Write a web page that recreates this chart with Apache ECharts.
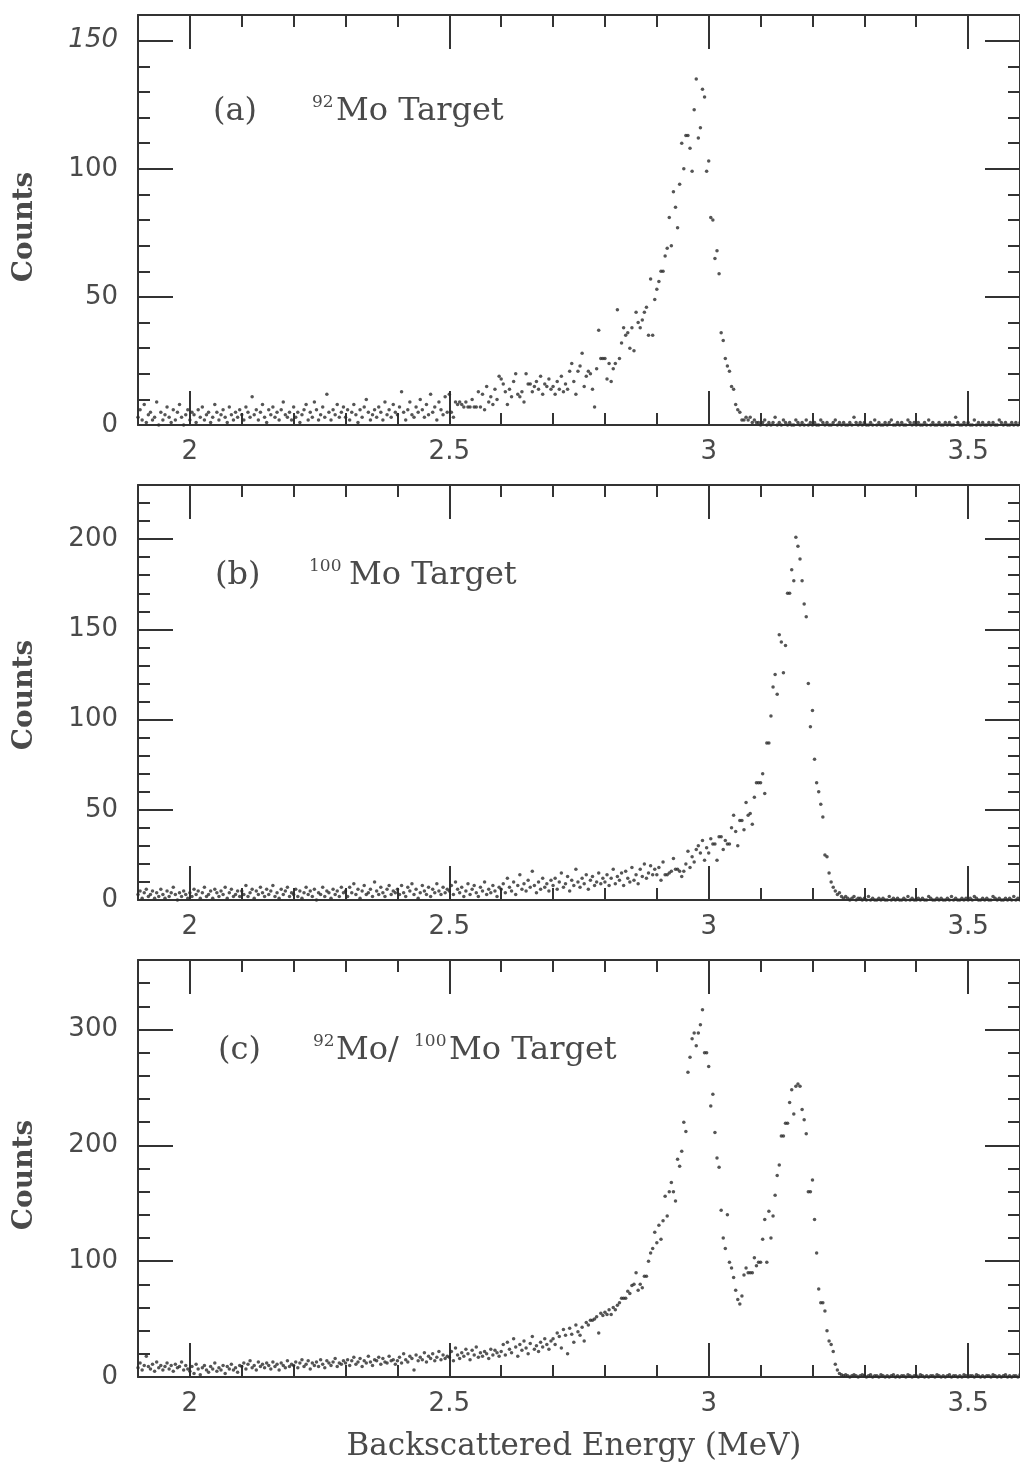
<!DOCTYPE html>
<html><head><meta charset="utf-8">
<script src="https://cdn.jsdelivr.net/npm/echarts@6/dist/echarts.min.js"></script>
<style>html,body{margin:0;padding:0;background:#fff}#chart{width:1020px;height:1473px}</style>
</head><body><div id="chart"></div>
<script>
// Channel energy calibration (MeV): channel i sits at channelStart + i*channelWidth
const channelStart = 1.9;
const channelWidth = 0.004;

// Tick values
const xMajorTicks = [2, 2.5, 3, 3.5];
const xMinorTicks = [1.9, 2.0, 2.1, 2.2, 2.3, 2.4, 2.5, 2.6, 2.7, 2.8, 2.9, 3.0, 3.1, 3.2, 3.3, 3.4, 3.5, 3.6];
const yMajorA = [0, 50, 100, 150];
const yMinorA = [0, 10, 20, 30, 40, 50, 60, 70, 80, 90, 100, 110, 120, 130, 140, 150, 160];
const yMajorB = [0, 50, 100, 150, 200];
const yMinorB = [0, 10, 20, 30, 40, 50, 60, 70, 80, 90, 100, 110, 120, 130, 140, 150, 160, 170, 180, 190, 200, 210, 220, 230];
const yMajorC = [0, 100, 200, 300];
const yMinorC = [0, 20, 40, 60, 80, 100, 120, 140, 160, 180, 200, 220, 240, 260, 280, 300, 320, 340, 360];

// (a) 92Mo target counts per channel
const countsA = [
3,6,2,8,1,4,5,2,3,9,0,5,2,4,7,3,1,6,2,5,8,3,0,4,6,
2,5,4,1,6,3,7,2,4,5,1,3,8,5,2,4,6,3,1,7,4,2,5,3,6,
4,2,7,5,3,11,4,6,2,5,8,3,1,6,4,7,3,5,2,6,9,4,3,5,2,
7,3,5,1,4,6,8,2,5,3,9,6,2,4,7,3,12,5,2,6,4,8,3,5,7,
3,6,2,5,8,4,1,6,3,7,10,5,2,4,6,3,7,5,2,9,4,6,3,8,5,
4,7,13,5,2,6,9,4,3,7,5,10,6,3,8,4,12,5,7,2,9,6,4,11,5,
12,5,3,9,8,9,8,7,9,7,7,10,7,7,13,7,12,6,15,9,11,8,14,10,19,
18,16,13,8,14,11,17,20,12,11,13,9,20,16,16,13,15,17,14,19,12,16,15,18,14,
15,12,17,14,19,13,16,14,21,24,17,12,21,23,28,15,19,21,20,14,7,22,37,26,26,
26,18,24,17,22,24,45,26,32,38,35,36,30,38,29,44,40,38,41,44,46,35,57,35,49,
53,56,60,60,66,69,81,70,91,85,77,94,110,100,113,113,108,99,123,135,112,116,131,128,99,
103,81,80,65,68,59,36,33,26,23,21,15,14,8,6,5,2,2,3,2,3,1,2,1,1,
0,1,2,0,1,0,1,3,0,1,0,2,1,0,1,0,0,2,1,0,1,0,2,0,1,
0,1,0,0,2,1,0,1,0,0,1,2,0,1,0,1,0,0,1,0,3,1,0,1,0,
1,0,0,1,0,2,0,1,0,0,1,0,1,2,0,0,1,0,1,0,0,2,1,0,1,
0,1,0,0,1,0,2,0,1,0,0,1,0,0,1,0,1,0,0,3,1,0,0,1,0,
1,0,0,2,0,1,0,1,0,0,1,0,1,0,0,2,1,0,1,0,0,1,0,1,0,1
];

// (b) 100Mo target counts per channel
const countsB = [
3,5,1,4,6,2,3,5,1,4,2,6,3,1,5,2,4,7,3,0,4,2,5,3,1,
4,2,6,3,5,1,4,7,2,3,5,1,6,4,2,5,3,7,1,4,6,2,3,5,2,
5,3,8,2,4,6,1,5,3,7,4,2,6,3,5,8,2,4,1,6,3,5,7,2,4,
3,6,2,5,1,4,7,3,5,2,6,0,4,3,7,2,5,4,1,6,3,5,2,7,4,
5,2,7,4,9,3,6,1,5,8,3,4,6,2,10,5,3,7,4,2,6,8,3,5,4,
6,3,8,4,2,7,5,9,3,6,1,4,8,5,3,7,2,6,4,9,5,3,7,4,6,
5,8,3,10,6,4,7,2,5,9,3,6,8,4,2,7,5,10,3,6,4,8,5,2,7,
6,9,4,12,7,5,10,3,8,14,6,9,5,11,7,16,8,4,10,6,12,7,9,5,11,
8,12,6,10,15,7,9,13,5,11,8,17,10,7,12,9,14,6,11,13,8,10,15,9,12,
10,14,8,12,17,9,13,11,15,8,16,12,10,18,11,14,9,17,13,20,12,15,19,14,17,
14,18,11,21,14,14,15,16,23,17,17,16,13,16,20,27,18,24,21,28,30,26,33,22,29,
26,34,31,31,22,35,35,28,33,31,31,40,47,38,30,44,44,39,54,47,48,42,57,65,65,
65,70,59,87,87,102,118,125,114,147,143,126,141,170,170,183,177,201,196,189,177,164,157,120,96,
105,78,65,60,53,46,25,24,15,10,7,5,3,4,2,1,2,1,0,1,2,0,1,1,0,
1,0,2,0,1,0,0,1,0,1,0,0,2,0,1,0,1,0,0,1,0,2,0,1,0,
0,1,0,1,0,0,2,1,0,0,1,0,1,0,0,1,0,2,0,1,0,0,1,0,1,
0,1,0,2,1,0,0,1,0,1,0,0,2,1,0,1,0,0,1,0,1,0,2,0,1,0
];

// (c) 92Mo/100Mo target counts per channel
const countsC = [
8,12,6,10,18,9,7,11,5,13,8,10,6,9,12,7,10,5,11,8,9,13,6,10,7,
5,9,3,11,7,2,8,10,6,4,9,7,12,5,8,6,10,3,9,7,11,6,8,4,10,
9,12,7,11,14,8,10,6,13,9,11,8,12,10,7,13,9,11,6,12,10,8,14,9,11,
10,13,8,12,15,9,11,14,7,12,10,13,9,15,11,8,14,12,10,13,16,9,12,11,14,
12,15,10,14,17,11,13,16,9,14,12,18,13,10,15,14,17,11,16,13,12,18,14,15,11,
14,17,12,20,15,13,18,16,6,19,14,17,15,21,13,18,16,20,14,17,22,15,19,16,18,
17,22,14,25,19,16,21,18,24,20,15,23,19,26,17,21,18,22,20,16,24,19,23,21,18,
22,28,19,30,24,21,33,26,18,28,23,31,25,20,29,35,24,27,22,30,26,33,28,24,31,
33,28,38,35,25,41,36,20,42,37,30,45,39,36,43,31,47,45,49,49,50,52,38,55,53,
56,54,58,54,60,58,62,64,68,68,68,74,72,79,80,90,75,80,77,87,87,100,107,111,125,
116,131,119,135,156,139,160,168,160,152,188,182,195,220,212,263,276,292,297,286,297,304,317,280,280,
268,234,244,211,189,181,144,120,111,140,99,94,86,75,67,63,70,88,94,90,90,90,103,96,99,
99,119,136,99,143,120,139,157,174,183,208,208,219,219,237,248,227,251,253,251,231,222,210,160,160,
170,136,107,76,64,64,57,40,31,28,22,11,6,3,2,1,2,1,0,1,2,1,0,1,2,
1,0,1,2,0,1,1,0,2,1,0,1,0,1,2,0,1,0,1,1,0,2,1,0,1,
1,0,2,1,0,1,0,1,1,0,2,1,0,1,0,1,2,0,1,1,0,1,0,2,1,
0,1,1,0,2,1,0,1,0,1,1,0,2,1,0,1,0,1,2,0,1,0,1,1,0,2
];

const xLabelText = 'Backscattered Energy (MeV)';
const yLabelText = 'Counts';

// ---------- layout / style ----------
const X_MIN = 1.9, X_MAX = 3.6;
const INK = '#333';
const TXT = '#4a4a4a';
const LINE = {color: INK, width: 2};
const NUM_FONT = {fontFamily: 'DejaVu Sans', fontSize: 26, color: TXT};
const SERIF = 'DejaVu Serif';

const panels = [
  {top: 15, height: 410, yMax: 160, major: yMajorA, minor: yMinorA, counts: countsA, italic: [150]},
  {top: 485, height: 415, yMax: 230, major: yMajorB, minor: yMinorB, counts: countsB, italic: []},
  {top: 960, height: 417, yMax: 360, major: yMajorC, minor: yMinorC, counts: countsC, italic: []}
];

function toPoints(counts) {
  return counts.map((c, i) => [+(channelStart + channelWidth * i).toFixed(4), c]);
}

function line(show) { return {show: show, onZero: false, lineStyle: LINE}; }
function ticks(len, vals) { return {show: true, inside: true, length: len, customValues: vals, lineStyle: LINE}; }

const grid = [], xAxis = [], yAxis = [], series = [];
panels.forEach((p, gi) => {
  grid.push({left: 138, top: p.top, width: 886, height: p.height, containLabel: false});
  const xb = {type: 'value', gridIndex: gi, min: X_MIN, max: X_MAX, splitLine: {show: false}};
  xAxis.push(
    Object.assign({}, xb, {position: 'bottom', axisLine: line(true), axisTick: ticks(34, xMajorTicks),
      axisLabel: Object.assign({show: true, customValues: xMajorTicks, margin: 14,
        formatter: v => String(v)}, NUM_FONT)}),
    Object.assign({}, xb, {position: 'bottom', axisLine: line(false), axisTick: ticks(12, xMinorTicks),
      axisLabel: {show: false}}),
    Object.assign({}, xb, {position: 'top', axisLine: line(true), axisTick: ticks(34, xMajorTicks),
      axisLabel: {show: false}}),
    Object.assign({}, xb, {position: 'top', axisLine: line(false), axisTick: ticks(12, xMinorTicks),
      axisLabel: {show: false}})
  );
  const yb = {type: 'value', gridIndex: gi, min: 0, max: p.yMax, splitLine: {show: false}};
  yAxis.push(
    Object.assign({}, yb, {position: 'left', axisLine: line(true), axisTick: ticks(35, p.major),
      axisLabel: Object.assign({show: true, customValues: p.major, margin: 20,
        formatter: v => p.italic.indexOf(v) >= 0 ? '{i|' + v + '}' : String(v),
        rich: {i: Object.assign({fontStyle: 'italic'}, NUM_FONT)}}, NUM_FONT)}),
    Object.assign({}, yb, {position: 'left', axisLine: line(false), axisTick: ticks(12, p.minor),
      axisLabel: {show: false}}),
    Object.assign({}, yb, {position: 'right', axisLine: line(true), axisTick: ticks(35, p.major),
      axisLabel: {show: false}}),
    Object.assign({}, yb, {position: 'right', axisLine: line(false), axisTick: ticks(12, p.minor),
      axisLabel: {show: false}})
  );
  series.push({type: 'scatter', xAxisIndex: gi * 4, yAxisIndex: gi * 4, data: toPoints(p.counts),
    symbol: 'circle', symbolSize: 3.5, itemStyle: {color: '#2a2a2a'}, silent: true, z: 5});
});

function txt(x, y, text, size, opts) {
  return {type: 'text', x: x, y: y, silent: true, z: 10,
    rotation: (opts && opts.rot) || 0,
    style: {text: text, fontFamily: SERIF, fontSize: size, fill: TXT,
      fontWeight: (opts && opts.bold) ? 'bold' : 'normal',
      align: (opts && opts.align) || 'left', verticalAlign: 'middle'}};
}

const graphic = [
  txt(213, 112, '(a)', 32), txt(312, 103, '92', 17), txt(336, 112, 'Mo Target', 32),
  txt(215, 576, '(b)', 32), txt(309, 567, '100', 17), txt(349, 576, 'Mo Target', 32),
  txt(218, 1051, '(c)', 32), txt(313, 1042, '92', 17), txt(336, 1051, 'Mo/', 32),
  txt(414, 1042, '100', 17), txt(449, 1051, 'Mo Target', 32),
  txt(25, 227, yLabelText, 28, {rot: Math.PI / 2, align: 'center', bold: true}),
  txt(25, 695, yLabelText, 28, {rot: Math.PI / 2, align: 'center', bold: true}),
  txt(25, 1175, yLabelText, 28, {rot: Math.PI / 2, align: 'center', bold: true}),
  txt(574, 1447, xLabelText, 31, {align: 'center'})
];

const chart = echarts.init(document.getElementById('chart'), null, {renderer: 'canvas'});
chart.setOption({animation: false, backgroundColor: '#fff', grid: grid, xAxis: xAxis, yAxis: yAxis,
  series: series, graphic: graphic});
</script></body></html>
